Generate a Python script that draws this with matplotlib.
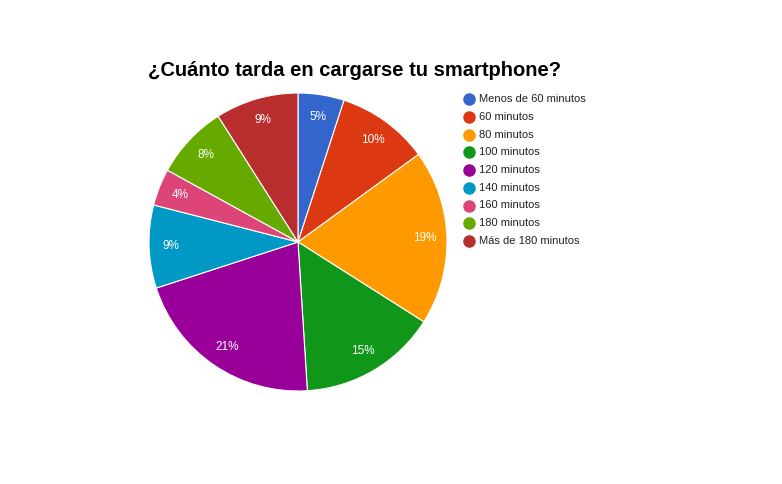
import matplotlib.pyplot as plt
from matplotlib.lines import Line2D

categorias = ["Menos de 60 minutos", "60 minutos", "80 minutos", "100 minutos",
              "120 minutos", "140 minutos", "160 minutos", "180 minutos",
              "Más de 180 minutos"]
valores = [5, 10, 19, 15, 21, 9, 4, 8, 9]
colores = ["#3366cc", "#dc3912", "#ff9900", "#109618", "#990099",
           "#0099c6", "#dd4477", "#66aa00", "#b82e2e"]

plt.rcParams['font.family'] = ['Liberation Sans', 'DejaVu Sans']

W, H = 782, 484
fig = plt.figure(figsize=(W / 100, H / 100), dpi=100)

# pie area in pixels: center (298, 242), radius 149
ax = fig.add_axes([149 / W, (H - 391) / H, 298 / W, 298 / H])
wedges, texts, autotexts = ax.pie(
    valores, colors=colores, startangle=90, counterclock=False,
    autopct=lambda p: '%d%%' % round(p), pctdistance=0.85,
    wedgeprops=dict(edgecolor='white', linewidth=0.8),
    textprops=dict(color='white', fontsize=8.5))
ax.set_xlim(-1, 1)
ax.set_ylim(-1, 1)
ax.set_aspect('equal')
ax.axis('off')

fig.text(148 / W, 1 - 70 / H, "¿Cuánto tarda en cargarse tu smartphone?",
         fontsize=14.5, fontweight='bold', va='center', ha='left', color='#000000')

# legend drawn by hand
y0, dy = 99, 17.75
for i, (cat, col) in enumerate(zip(categorias, colores)):
    y = 1 - (y0 + i * dy) / H
    fig.add_artist(Line2D([469 / W], [y], marker='o', markersize=8,
                          color=col, linestyle='none', transform=fig.transFigure))
    fig.text(479 / W, y, cat, fontsize=8, va='center', ha='left', color='#222222')

fig.savefig('out.png', dpi=100, facecolor='white')
